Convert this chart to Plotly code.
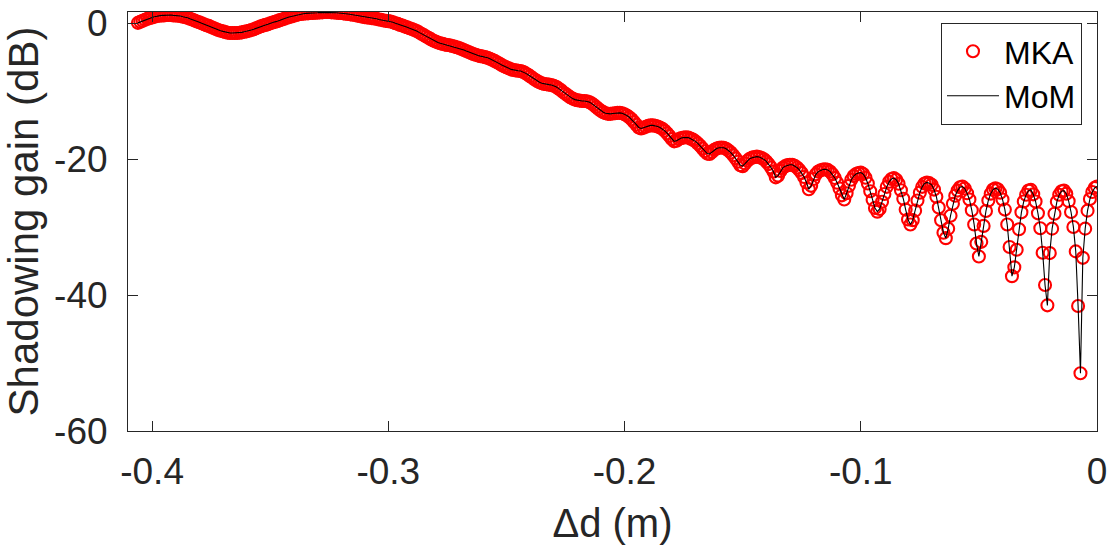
import numpy as np
import plotly.graph_objects as go

# Sampling grid of the path-length difference (m)
X_FIRST = -0.406
X_STEP = 0.001

# Shadowing gain (dB) along the grid, MoM reference solution
gain_mom_db = [
    0.1, 0.25, 0.4, 0.55, 0.7, 0.8, 0.9, 1.0, 1.1, 1.15,                      # -0.406
    1.2, 1.2, 1.25, 1.25, 1.25, 1.2, 1.2, 1.15, 1.1, 1.0,                      # -0.396
    0.95, 0.85, 0.7, 0.6, 0.45, 0.3, 0.2, 0.05, -0.1, -0.25,                   # -0.386
    -0.35, -0.5, -0.65, -0.8, -0.95, -1.05, -1.15, -1.25, -1.35, -1.4,         # -0.376
    -1.4, -1.4, -1.4, -1.35, -1.3, -1.2, -1.15, -1.05, -0.95, -0.85,           # -0.366
    -0.7, -0.55, -0.4, -0.3, -0.2, -0.1, 0.05, 0.15, 0.25, 0.35,               # -0.356
    0.5, 0.6, 0.7, 0.85, 0.95, 1.05, 1.15, 1.25, 1.35, 1.4,                    # -0.346
    1.45, 1.5, 1.5, 1.55, 1.55, 1.6, 1.6, 1.65, 1.65, 1.7,                     # -0.336
    1.7, 1.7, 1.65, 1.65, 1.6, 1.55, 1.55, 1.5, 1.45, 1.4,                     # -0.326
    1.35, 1.3, 1.25, 1.15, 1.1, 1.0, 0.95, 0.9, 0.85, 0.8,                     # -0.316
    0.75, 0.7, 0.6, 0.55, 0.45, 0.4, 0.35, 0.3, 0.2, 0.05,                     # -0.306
    -0.05, -0.2, -0.3, -0.45, -0.55, -0.7, -0.8, -0.95, -1.1, -1.3,            # -0.296
    -1.5, -1.7, -1.9, -2.1, -2.3, -2.5, -2.65, -2.8, -2.9, -3.0,               # -0.286
    -3.1, -3.15, -3.2, -3.3, -3.4, -3.5, -3.6, -3.75, -3.9, -4.05,             # -0.276
    -4.2, -4.35, -4.5, -4.6, -4.7, -4.8, -4.85, -4.95, -5.05, -5.2,            # -0.266
    -5.35, -5.5, -5.7, -5.9, -6.1, -6.3, -6.45, -6.6, -6.75, -6.85,            # -0.256
    -6.9, -6.95, -7.0, -7.1, -7.3, -7.5, -7.75, -8.0, -8.25, -8.45,            # -0.246
    -8.65, -8.8, -8.9, -8.95, -9.0, -9.05, -9.15, -9.3, -9.55, -9.8,           # -0.236
    -10.1, -10.35, -10.6, -10.85, -11.05, -11.2, -11.3, -11.35, -11.4, -11.4,  # -0.226
    -11.45, -11.55, -11.75, -12.0, -12.3, -12.6, -12.85, -13.05, -13.2, -13.3, # -0.216
    -13.3, -13.25, -13.2, -13.15, -13.15, -13.2, -13.35, -13.55, -13.8, -14.1, # -0.206
    -14.5, -14.9, -15.3, -15.45, -15.35, -15.2, -15.05, -15.0, -15.0, -15.05,  # -0.196
    -15.15, -15.3, -15.5, -15.8, -16.15, -16.55, -17.0, -17.35, -17.25, -17.0, # -0.186
    -16.85, -16.8, -16.75, -16.8, -16.95, -17.1, -17.35, -17.65, -18.0, -18.4, # -0.176
    -18.8, -19.15, -19.2, -18.9, -18.6, -18.4, -18.3, -18.25, -18.3, -18.45,   # -0.166
    -18.7, -19.0, -19.4, -19.85, -20.35, -20.85, -21.0, -20.6, -20.2, -19.9,   # -0.156
    -19.75, -19.65, -19.6, -19.65, -19.8, -20.0, -20.3, -20.7, -21.2, -21.8,   # -0.146
    -22.65, -22.4, -21.7, -21.25, -21.0, -20.85, -20.8, -20.8, -20.95, -21.2,  # -0.136
    -21.55, -22.0, -22.6, -23.4, -24.4, -23.9, -22.9, -22.2, -21.8, -21.6,     # -0.126
    -21.5, -21.45, -21.55, -21.8, -22.2, -22.75, -23.45, -24.3, -25.3, -25.9,  # -0.116
    -25.0, -23.9, -23.0, -22.45, -22.15, -22.0, -21.95, -22.15, -22.7, -23.55, # -0.106
    -24.7, -25.95, -27.15, -27.7, -27.3, -26.25, -25.1, -24.05, -23.3, -22.9,  # -0.096
    -22.75, -23.0, -23.6, -24.55, -25.8, -27.4, -28.85, -29.6, -28.95, -27.55, # -0.086
    -26.05, -24.9, -24.05, -23.55, -23.4, -23.5, -23.75, -24.45, -25.5, -27.1, # -0.076
    -28.95, -30.8, -31.6, -30.2, -28.3, -26.55, -25.35, -24.6, -24.1, -24.0,   # -0.066
    -24.3, -25.0, -25.9, -27.5, -29.6, -32.4, -34.3, -32.15, -29.8, -27.6,     # -0.056
    -26.05, -25.05, -24.45, -24.25, -24.4, -24.9, -25.9, -27.4, -29.6, -32.9,  # -0.046
    -37.2, -35.9, -33.3, -30.3, -27.8, -26.2, -25.2, -24.6, -24.5, -25.15,     # -0.036
    -26.2, -27.95, -30.15, -33.75, -38.5, -41.5, -33.8, -30.2, -28.0, -26.25,  # -0.026
    -25.2, -24.7, -24.6, -25.05, -26.15, -27.75, -29.95, -33.55, -41.6, -51.5, # -0.016
    -34.5, -30.2, -27.55, -25.85, -24.8, -24.2, -24.0,                         # -0.006
]

# MKA result: coincides with the MoM curve at plotting resolution
gain_mka_db = list(gain_mom_db)

delta_d_m = np.round(X_FIRST + X_STEP * np.arange(len(gain_mom_db)), 4)

x_tick_vals = [-0.4, -0.3, -0.2, -0.1, 0]
x_tick_text = ["-0.4", "-0.3", "-0.2", "-0.1", "0"]
y_tick_vals = [-60, -40, -20, 0]
y_tick_text = ["-60", "-40", "-20", "0"]

AX = "#262626"
FONT = "Liberation Sans, Arial, Helvetica, sans-serif"

fig = go.Figure()
fig.add_trace(go.Scatter(
    x=delta_d_m, y=gain_mka_db, mode="markers", name="MKA",
    marker=dict(symbol="circle-open", size=12, color="#ff0000",
                line=dict(color="#ff0000", width=2.1)),
))
fig.add_trace(go.Scatter(
    x=delta_d_m, y=gain_mom_db, mode="lines", name="MoM",
    line=dict(color="#000000", width=1.1),
))

axis_common = dict(
    showline=True, linecolor=AX, linewidth=1, mirror="ticks",
    ticks="inside", ticklen=10, tickwidth=1, tickcolor=AX,
    showgrid=False, zeroline=False, automargin=False,
    tickfont=dict(family=FONT, size=37, color=AX),
)

fig.update_layout(
    width=1109, height=545,
    margin=dict(l=128, r=12, t=12, b=114),
    paper_bgcolor="white", plot_bgcolor="white",
    font=dict(family=FONT, color=AX),
    xaxis=dict(
        range=[-0.4102, 0], tickvals=x_tick_vals, ticktext=x_tick_text,
        title=dict(text="Δd (m)", font=dict(family=FONT, size=40, color=AX), standoff=24),
        ticklabelstandoff=8,
        **axis_common,
    ),
    yaxis=dict(
        range=[-60, 1.7], tickvals=y_tick_vals, ticktext=y_tick_text,
        title=dict(text="Shadowing gain (dB)", font=dict(family=FONT, size=42, color=AX), standoff=6),
        ticklabelstandoff=12,
        **axis_common,
    ),
    legend=dict(
        x=0.9845, xanchor="right", y=0.974, yanchor="top",
        bgcolor="white", bordercolor=AX, borderwidth=1,
        font=dict(family=FONT, size=32, color="#000000"),
        itemwidth=52, tracegroupgap=0,
    ),
    showlegend=True,
)

fig.write_html("out.html")
